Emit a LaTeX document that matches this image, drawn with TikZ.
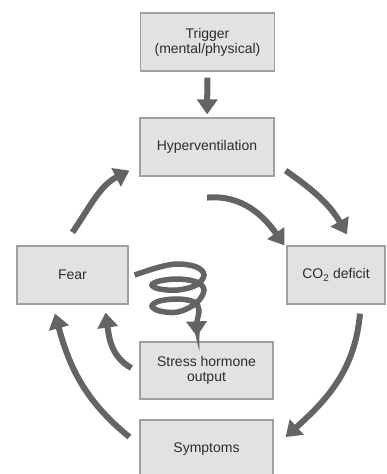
\documentclass[tikz,border=0pt]{standalone}
\usepackage{fontspec}
\setmainfont{Liberation Sans}
\usepackage{tikz}
\usetikzlibrary{arrows.meta}
\definecolor{boxfill}{RGB}{226,226,226}
\definecolor{boxline}{RGB}{160,160,160}
\definecolor{arrgray}{RGB}{100,100,100}
\definecolor{txtgray}{RGB}{45,45,45}

\begin{document}
\begin{tikzpicture}[x=1pt,y=1pt,
    box/.style={draw=boxline,line width=1.2pt,fill=boxfill,text=txtgray,align=center,
        minimum height=58pt,inner sep=0pt,font=\fontsize{14}{15}\selectfont},
    arr/.style={draw=arrgray,line width=6pt,-{Triangle[width=20pt,length=15pt]}}]
    \pgfmathsetmacro{\wide}{134}
    \useasboundingbox (0,0) rectangle (386,474);
    % Draw the boxes
    \node [box,minimum width=\wide] (trigger) at (207.5,432) {Trigger\\(mental/physical)};
    \node [box,minimum width=\wide] (hyper) at (207,327) {Hyperventilation};
    \node [box,minimum width=111] (fear) at (72.5,199) {Fear};
    \node [box,minimum width=98] (co2) at (336,199) {CO\textsubscript{2} deficit};
    \node [box,minimum width=133,minimum height=57pt] (stress) at (206.5,103.5) {Stress hormone\\output};
    \node [box,minimum width=133] (symptoms) at (206.5,25) {Symptoms};

    % Draw the cycle
    \draw [arr,shorten <=6pt,shorten >=3pt] (trigger) -- (hyper);
    \draw [arr] ([shift={(11,6)}]hyper.south east) to [out=-35,in=120]
        ([shift={(11,11)}]co2.north);
    \draw [arr] ([yshift=-21pt]hyper.south) to [out=5,in=125]
        ([shift={(-2,0)}]co2.north west);
    \draw [arr] ([shift={(24,-9)}]co2.south) to [out=-95,in=42]
        ([shift={(12,12)}]symptoms.east);
    \draw [arr] ([shift={(-10,12)}]symptoms.west) to [out=141,in=-75]
        ([shift={(-17.5,-9)}]fear.south);
    \draw [arr] ([shift={(-8,2.5)}]stress.west) to [out=151,in=-82]
        ([shift={(-23,-8)}]fear.south east);
    \draw [arr] ([yshift=13pt]fear.north) to [out=56,in=-153]
        ([shift={(-10,6)}]hyper.south west);

    % Draw the spiral
    \draw [arr,line width=5.5pt] plot [smooth,tension=0.6] coordinates {
        ([xshift=6pt]fear.east) (159.6,207) (178,210) (196.4,207) (204,199)
        (196.4,189) (178,184) (159.6,185) (152,189) (159.6,193) (178,195)
        (196.4,192) (204,184) (196.4,171) (178,162) (159.6,163) (152,168)
        (159.6,173) (178,175) (194,172) (199,164) (197,152)
        ([shift={(-9.5,5)}]stress.north)};
\end{tikzpicture}
\end{document}
